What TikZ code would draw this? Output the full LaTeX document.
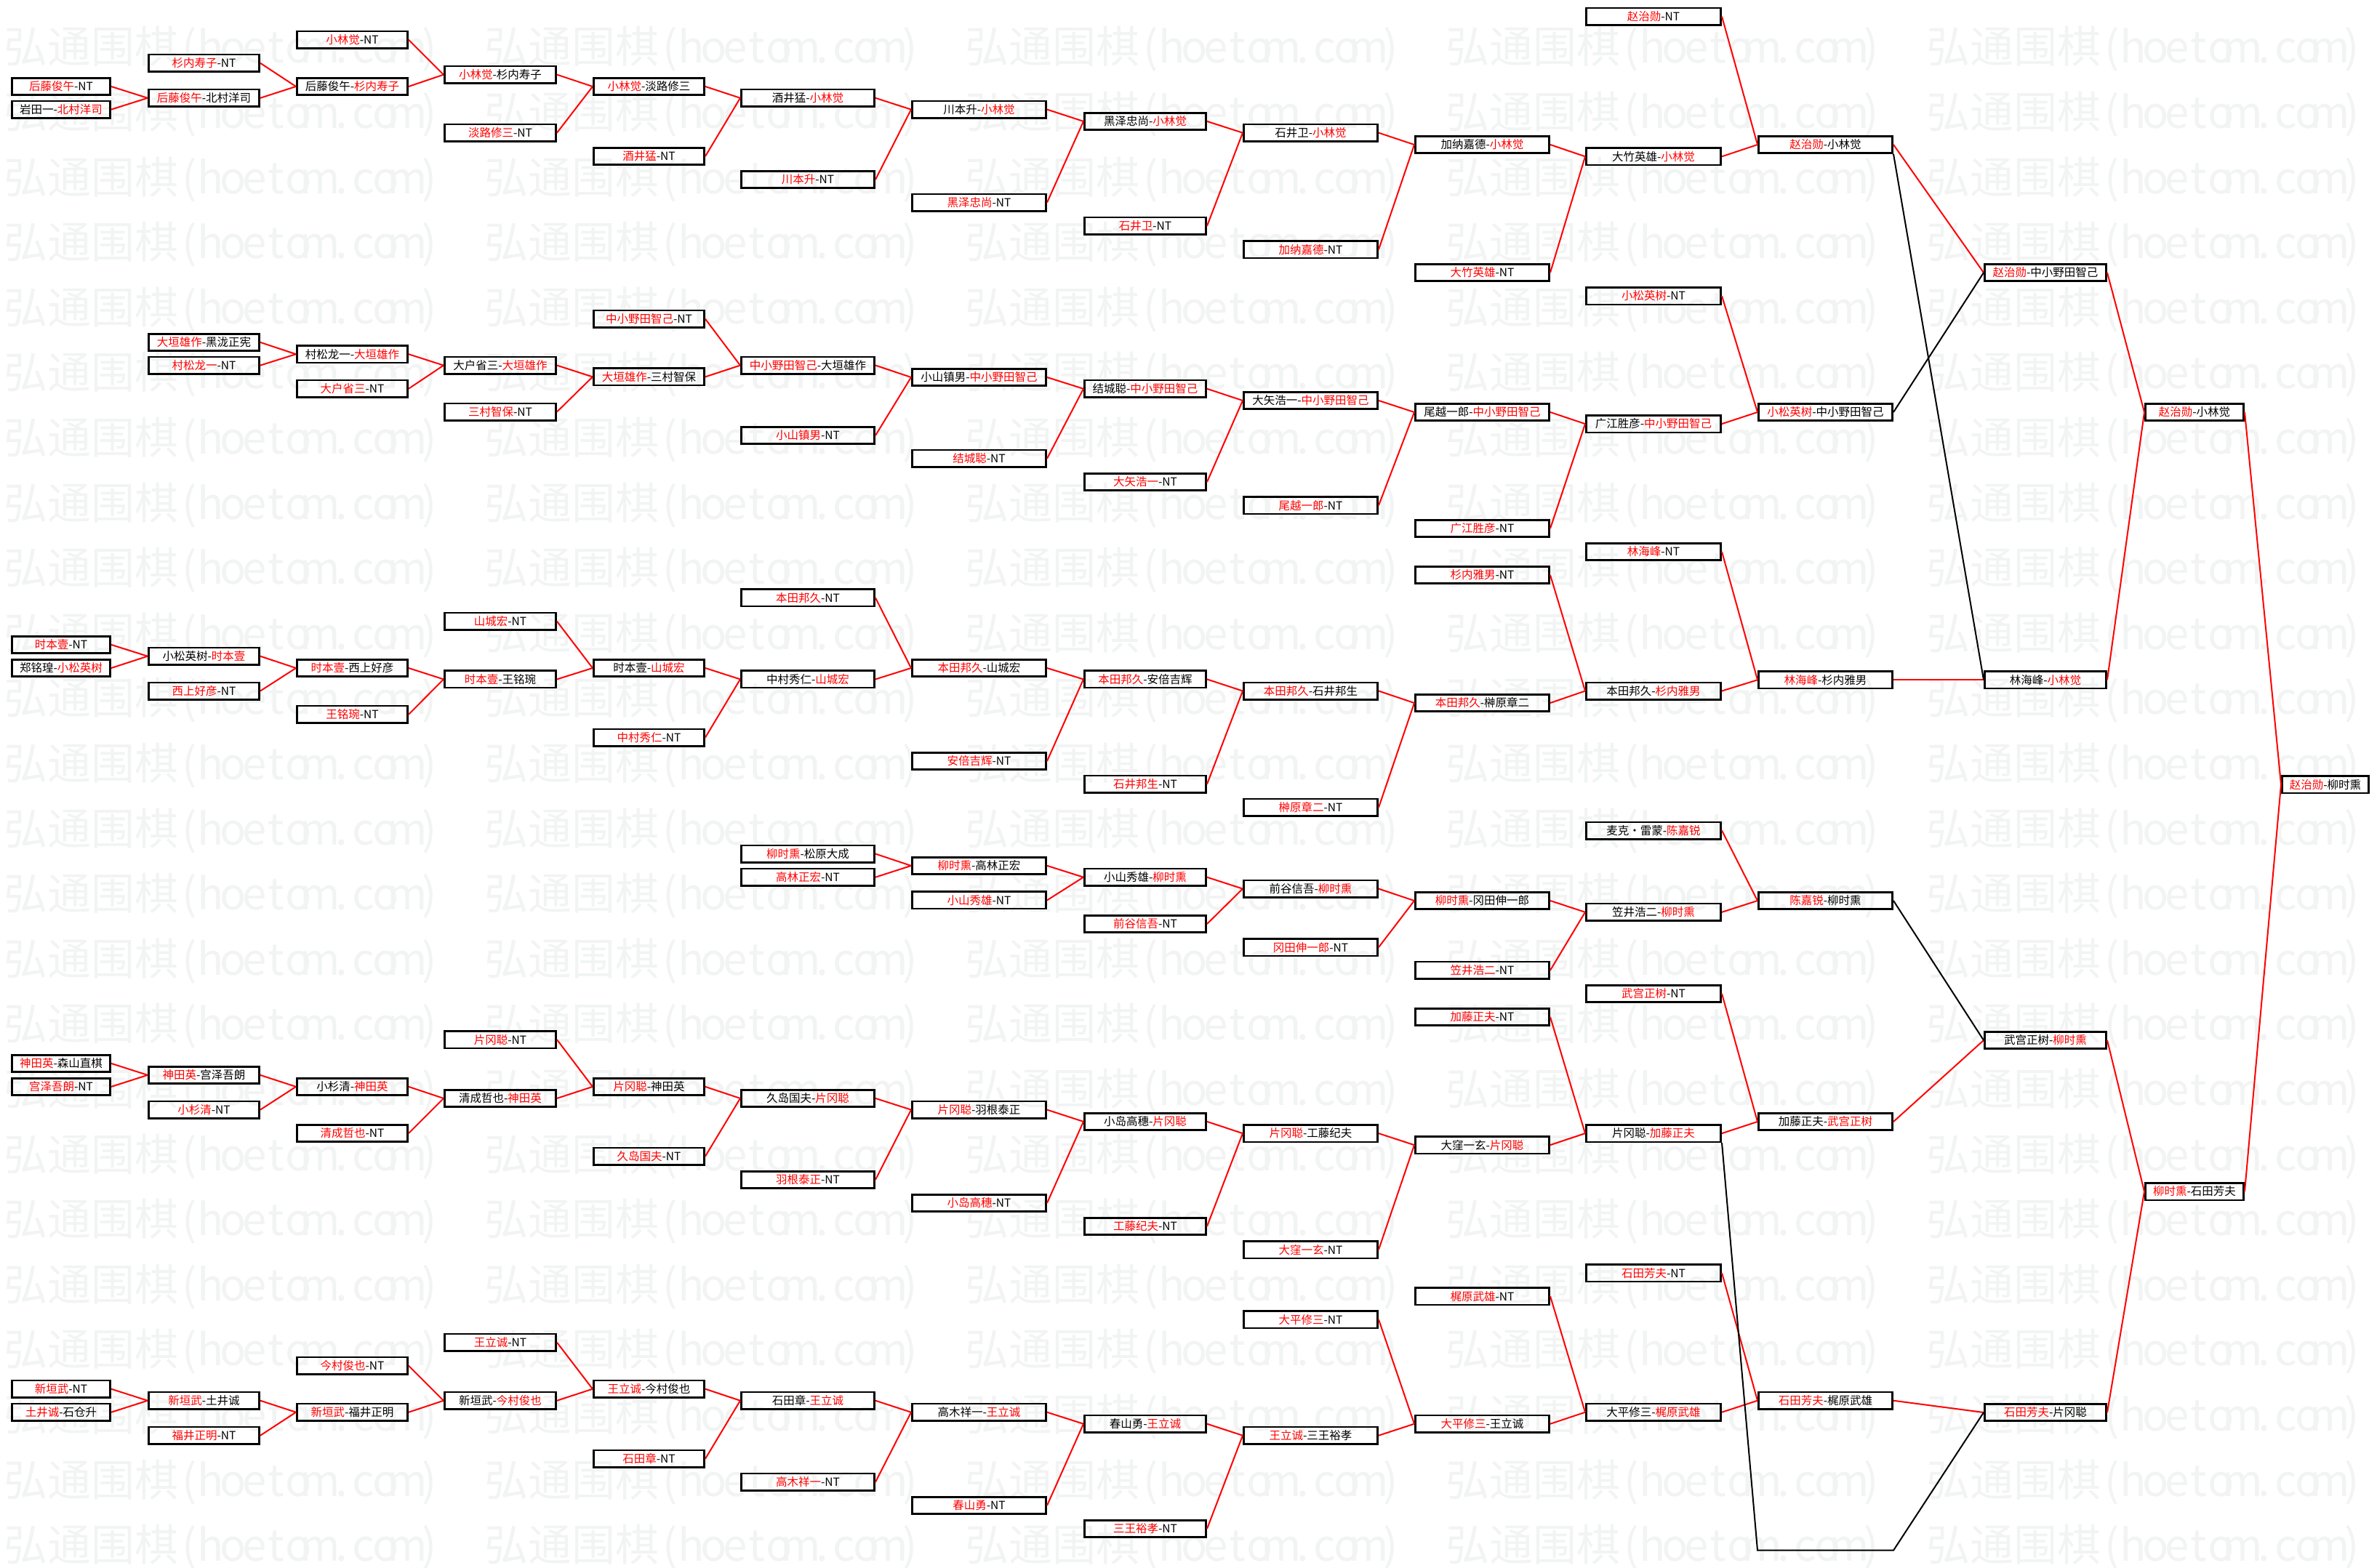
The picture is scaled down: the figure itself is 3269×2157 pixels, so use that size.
\documentclass[tikz,border=0pt]{standalone}
\usepackage{fontspec}
\setmainfont{Noto Sans CJK SC}
\definecolor{wred}{RGB}{255,0,0}
\definecolor{wmc}{RGB}{242,244,244}
\newcommand\Rd[1]{\textcolor{wred}{#1}}
\newcommand\hw[1]{\makebox[0.5em][c]{#1}}
\newcommand\wmtext{弘通围棋\hw{(}\hw{h}\hw{o}\hw{e}\hw{t}\hw{o}\hw{m}\hw{.}\hw{c}\hw{o}\hw{m}\hw{)}}
\tikzset{
 box/.style={draw=black, line width=2.6pt, inner sep=0pt, minimum height=23.4pt, font=\fontsize{15.5}{16}\selectfont},
 k0/.style={box,minimum width=135.4pt,xshift=84pt},
 k1/.style={box,minimum width=152.4pt,xshift=280.5pt},
 k2/.style={box,minimum width=152.4pt,xshift=484.5pt},
 k3/.style={box,minimum width=153.4pt,xshift=688pt},
 k4/.style={box,minimum width=152.4pt,xshift=892.5pt},
 k5/.style={box,minimum width=183.4pt,xshift=1111pt},
 k6/.style={box,minimum width=184.4pt,xshift=1346.5pt},
 k7/.style={box,minimum width=167.4pt,xshift=1575pt},
 k8/.style={box,minimum width=184.4pt,xshift=1802.5pt},
 k9/.style={box,minimum width=184.4pt,xshift=2038.5pt},
 k10/.style={box,minimum width=185.4pt,xshift=2274pt},
 k11/.style={box,minimum width=184.4pt,xshift=2510.5pt},
 k12/.style={box,minimum width=167.4pt,xshift=2813pt},
 k13/.style={box,minimum width=135.4pt,xshift=3018pt},
 k14/.style={box,minimum width=119.4pt,xshift=3198pt},
 rl/.style={draw=wred, line width=2pt},
 bl/.style={draw=black, line width=2pt},
 wmk/.style={text=wmc, font=\fontsize{60}{60}\selectfont, inner sep=0pt, anchor=west},
}
\newcommand\Bx[4]{\node[k#1] (#3) at (0,#2) {#4};}
\begin{document}
\begin{tikzpicture}[x=1pt,y=-1pt]
\useasboundingbox (0,0) rectangle (3269,2157);
\fill[white] (0,0) rectangle (3269,2157);
\begin{scope}
\clip (0,0) rectangle (3269,2157);
\foreach \r in {0,...,23} {
  \foreach \c in {0,...,4} {
    \node[wmk] (wm-\r-\c) at ({5+661*\c},{67.5+89.6*\r}) {\wmtext};
  }
}
\end{scope}
% Section 1
\Bx{0}{119}{a0a}{\Rd{后藤俊午}-NT}
\Bx{0}{150.6}{a0b}{岩田一-\Rd{北村洋司}}
\Bx{1}{86.8}{a1a}{\Rd{杉内寿子}-NT}
\Bx{1}{134.8}{a1b}{\Rd{后藤俊午}-北村洋司}
\Bx{2}{54.7}{a2a}{\Rd{小林觉}-NT}
\Bx{2}{119}{a2b}{后藤俊午-\Rd{杉内寿子}}
\Bx{3}{102.7}{a3a}{\Rd{小林觉}-杉内寿子}
\Bx{3}{182.7}{a3b}{\Rd{淡路修三}-NT}
\Bx{4}{119}{a4a}{\Rd{小林觉}-淡路修三}
\Bx{4}{215}{a4b}{\Rd{酒井猛}-NT}
\Bx{5}{134.8}{a5a}{酒井猛-\Rd{小林觉}}
\Bx{5}{247}{a5b}{\Rd{川本升}-NT}
\Bx{6}{150.6}{a6a}{川本升-\Rd{小林觉}}
\Bx{6}{278.6}{a6b}{\Rd{黑泽忠尚}-NT}
\Bx{7}{166.9}{a7a}{黑泽忠尚-\Rd{小林觉}}
\Bx{7}{310.8}{a7b}{\Rd{石井卫}-NT}
\Bx{8}{182.7}{a8a}{石井卫-\Rd{小林觉}}
\Bx{8}{343.3}{a8b}{\Rd{加纳嘉德}-NT}
\Bx{9}{199}{a9a}{加纳嘉德-\Rd{小林觉}}
\Bx{9}{375}{a9b}{\Rd{大竹英雄}-NT}
\Bx{10}{22.6}{a10a}{\Rd{赵治勋}-NT}
\Bx{10}{215.3}{a10b}{大竹英雄-\Rd{小林觉}}
\Bx{11}{199}{a11}{\Rd{赵治勋}-小林觉}
% Section 2
\Bx{1}{470.9}{b1a}{\Rd{大垣雄作}-黑泷正宪}
\Bx{1}{502.6}{b1b}{\Rd{村松龙一}-NT}
\Bx{2}{487.2}{b2a}{村松龙一-\Rd{大垣雄作}}
\Bx{2}{534.7}{b2b}{\Rd{大户省三}-NT}
\Bx{3}{502.6}{b3a}{大户省三-\Rd{大垣雄作}}
\Bx{3}{566.5}{b3b}{\Rd{三村智保}-NT}
\Bx{4}{438.8}{b4a}{\Rd{中小野田智己}-NT}
\Bx{4}{518.4}{b4b}{\Rd{大垣雄作}-三村智保}
\Bx{5}{502.6}{b5a}{\Rd{中小野田智己}-大垣雄作}
\Bx{5}{599}{b5b}{\Rd{小山镇男}-NT}
\Bx{6}{519}{b6a}{小山镇男-\Rd{中小野田智己}}
\Bx{6}{630.8}{b6b}{\Rd{结城聪}-NT}
\Bx{7}{534.8}{b7a}{结城聪-\Rd{中小野田智己}}
\Bx{7}{663}{b7b}{\Rd{大矢浩一}-NT}
\Bx{8}{551}{b8a}{大矢浩一-\Rd{中小野田智己}}
\Bx{8}{695.3}{b8b}{\Rd{尾越一郎}-NT}
\Bx{9}{567}{b9a}{尾越一郎-\Rd{中小野田智己}}
\Bx{9}{727}{b9b}{\Rd{广江胜彦}-NT}
\Bx{10}{407.1}{b10a}{\Rd{小松英树}-NT}
\Bx{10}{583.1}{b10b}{广江胜彦-\Rd{中小野田智己}}
\Bx{11}{567}{b11}{\Rd{小松英树}-中小野田智己}
% Section 3
\Bx{0}{886.9}{c0a}{\Rd{时本壹}-NT}
\Bx{0}{919}{c0b}{郑铭瑝-\Rd{小松英树}}
\Bx{1}{902.7}{c1a}{小松英树-\Rd{时本壹}}
\Bx{1}{950.5}{c1b}{\Rd{西上好彦}-NT}
\Bx{2}{919}{c2a}{\Rd{时本壹}-西上好彦}
\Bx{2}{982.8}{c2b}{\Rd{王铭琬}-NT}
\Bx{3}{854.8}{c3a}{\Rd{山城宏}-NT}
\Bx{3}{934.4}{c3b}{\Rd{时本壹}-王铭琬}
\Bx{4}{919}{c4a}{时本壹-\Rd{山城宏}}
\Bx{4}{1014.5}{c4b}{\Rd{中村秀仁}-NT}
\Bx{5}{822.4}{c5a}{\Rd{本田邦久}-NT}
\Bx{5}{934.4}{c5b}{中村秀仁-\Rd{山城宏}}
\Bx{6}{919}{c6a}{\Rd{本田邦久}-山城宏}
\Bx{6}{1047}{c6b}{\Rd{安倍吉辉}-NT}
\Bx{7}{934.4}{c7a}{\Rd{本田邦久}-安倍吉辉}
\Bx{7}{1078.7}{c7b}{\Rd{石井邦生}-NT}
\Bx{8}{950.5}{c8a}{\Rd{本田邦久}-石井邦生}
\Bx{8}{1110.8}{c8b}{\Rd{榊原章二}-NT}
\Bx{9}{791}{c9a}{\Rd{杉内雅男}-NT}
\Bx{9}{967}{c9b}{\Rd{本田邦久}-榊原章二}
\Bx{10}{758.9}{c10a}{\Rd{林海峰}-NT}
\Bx{10}{950.5}{c10b}{本田邦久-\Rd{杉内雅男}}
\Bx{11}{935.3}{c11}{\Rd{林海峰}-杉内雅男}
% Section 4
\Bx{5}{1174.6}{d5a}{\Rd{柳时熏}-松原大成}
\Bx{5}{1206.7}{d5b}{\Rd{高林正宏}-NT}
\Bx{6}{1190.9}{d6a}{\Rd{柳时熏}-高林正宏}
\Bx{6}{1238.4}{d6b}{\Rd{小山秀雄}-NT}
\Bx{7}{1206.7}{d7a}{小山秀雄-\Rd{柳时熏}}
\Bx{7}{1271}{d7b}{\Rd{前谷信吾}-NT}
\Bx{8}{1222.6}{d8a}{前谷信吾-\Rd{柳时熏}}
\Bx{8}{1303.1}{d8b}{\Rd{冈田伸一郎}-NT}
\Bx{9}{1239}{d9a}{\Rd{柳时熏}-冈田伸一郎}
\Bx{9}{1334.8}{d9b}{\Rd{笠井浩二}-NT}
\Bx{10}{1142.5}{d10a}{麦克・雷蒙-\Rd{陈嘉锐}}
\Bx{10}{1254.8}{d10b}{笠井浩二-\Rd{柳时熏}}
\Bx{11}{1239}{d11}{\Rd{陈嘉锐}-柳时熏}
% Section 5
\Bx{0}{1462.9}{e0a}{\Rd{神田英}-森山直棋}
\Bx{0}{1494.9}{e0b}{\Rd{宫泽吾朗}-NT}
\Bx{1}{1478.9}{e1a}{\Rd{神田英}-宫泽吾朗}
\Bx{1}{1526.6}{e1b}{\Rd{小杉清}-NT}
\Bx{2}{1494.9}{e2a}{小杉清-\Rd{神田英}}
\Bx{2}{1558.9}{e2b}{\Rd{清成哲也}-NT}
\Bx{3}{1430.2}{e3a}{\Rd{片冈聪}-NT}
\Bx{3}{1510.9}{e3b}{清成哲也-\Rd{神田英}}
\Bx{4}{1494.9}{e4a}{\Rd{片冈聪}-神田英}
\Bx{4}{1590.6}{e4b}{\Rd{久岛国夫}-NT}
\Bx{5}{1510.9}{e5a}{久岛国夫-\Rd{片冈聪}}
\Bx{5}{1622.9}{e5b}{\Rd{羽根泰正}-NT}
\Bx{6}{1526.6}{e6a}{\Rd{片冈聪}-羽根泰正}
\Bx{6}{1654.9}{e6b}{\Rd{小岛高穗}-NT}
\Bx{7}{1542.9}{e7a}{小岛高穗-\Rd{片冈聪}}
\Bx{7}{1686.9}{e7b}{\Rd{工藤纪夫}-NT}
\Bx{8}{1559.1}{e8a}{\Rd{片冈聪}-工藤纪夫}
\Bx{8}{1719.1}{e8b}{\Rd{大窪一玄}-NT}
\Bx{9}{1399}{e9a}{\Rd{加藤正夫}-NT}
\Bx{9}{1575.1}{e9b}{大窪一玄-\Rd{片冈聪}}
\Bx{10}{1366.9}{e10a}{\Rd{武宫正树}-NT}
\Bx{10}{1559.1}{e10b}{片冈聪-\Rd{加藤正夫}}
\Bx{11}{1543}{e11}{加藤正夫-\Rd{武宫正树}}
% Section 6
\Bx{0}{1910.7}{f0a}{\Rd{新垣武}-NT}
\Bx{0}{1942.7}{f0b}{\Rd{土井诚}-石仓升}
\Bx{1}{1926.7}{f1a}{\Rd{新垣武}-土井诚}
\Bx{1}{1974.7}{f1b}{\Rd{福井正明}-NT}
\Bx{2}{1878.7}{f2a}{\Rd{今村俊也}-NT}
\Bx{2}{1942.7}{f2b}{\Rd{新垣武}-福井正明}
\Bx{3}{1846.7}{f3a}{\Rd{王立诚}-NT}
\Bx{3}{1926.7}{f3b}{新垣武-\Rd{今村俊也}}
\Bx{4}{1910.7}{f4a}{\Rd{王立诚}-今村俊也}
\Bx{4}{2006.7}{f4b}{\Rd{石田章}-NT}
\Bx{5}{1926.7}{f5a}{石田章-\Rd{王立诚}}
\Bx{5}{2038.7}{f5b}{\Rd{高木祥一}-NT}
\Bx{6}{1942.7}{f6a}{高木祥一-\Rd{王立诚}}
\Bx{6}{2071}{f6b}{\Rd{春山勇}-NT}
\Bx{7}{1958.7}{f7a}{春山勇-\Rd{王立诚}}
\Bx{7}{2103}{f7b}{\Rd{三王裕孝}-NT}
\Bx{8}{1815.1}{f8a}{\Rd{大平修三}-NT}
\Bx{8}{1974.7}{f8b}{\Rd{王立诚}-三王裕孝}
\Bx{9}{1783.1}{f9a}{\Rd{梶原武雄}-NT}
\Bx{9}{1958.7}{f9b}{\Rd{大平修三}-王立诚}
\Bx{10}{1751.1}{f10a}{\Rd{石田芳夫}-NT}
\Bx{10}{1942.7}{f10b}{大平修三-\Rd{梶原武雄}}
\Bx{11}{1926.7}{f11}{\Rd{石田芳夫}-梶原武雄}
% Finals
\Bx{12}{375}{g12a}{\Rd{赵治勋}-中小野田智己}
\Bx{12}{935.3}{g12b}{林海峰-\Rd{小林觉}}
\Bx{12}{1431}{g12c}{武宫正树-\Rd{柳时熏}}
\Bx{12}{1943}{g12d}{\Rd{石田芳夫}-片冈聪}
\Bx{13}{567}{g13a}{\Rd{赵治勋}-小林觉}
\Bx{13}{1639.1}{g13b}{\Rd{柳时熏}-石田芳夫}
\Bx{14}{1079.2}{g14}{\Rd{赵治勋}-柳时熏}
\coordinate (h1) at (2417,2132.7);
\coordinate (h2) at (2604,2132.7);
% connectors
\foreach \s/\t in {a0a/a1b,a0b/a1b,a1a/a2b,a1b/a2b,a2a/a3a,a2b/a3a,a3a/a4a,a3b/a4a,a4a/a5a,a4b/a5a,a5a/a6a,a5b/a6a,a6a/a7a,a6b/a7a,a7a/a8a,a7b/a8a,a8a/a9a,a8b/a9a,a9a/a10b,a9b/a10b,a10a/a11,a10b/a11,
 b1a/b2a,b1b/b2a,b2a/b3a,b2b/b3a,b3a/b4b,b3b/b4b,b4a/b5a,b4b/b5a,b5a/b6a,b5b/b6a,b6a/b7a,b6b/b7a,b7a/b8a,b7b/b8a,b8a/b9a,b8b/b9a,b9a/b10b,b9b/b10b,b10a/b11,b10b/b11,
 c0a/c1a,c0b/c1a,c1a/c2a,c1b/c2a,c2a/c3b,c2b/c3b,c3a/c4a,c3b/c4a,c4a/c5b,c4b/c5b,c5a/c6a,c5b/c6a,c6a/c7a,c6b/c7a,c7a/c8a,c7b/c8a,c8a/c9b,c8b/c9b,c9a/c10b,c9b/c10b,c10a/c11,c10b/c11,
 d5a/d6a,d5b/d6a,d6a/d7a,d6b/d7a,d7a/d8a,d7b/d8a,d8a/d9a,d8b/d9a,d9a/d10b,d9b/d10b,d10a/d11,d10b/d11,
 e0a/e1a,e0b/e1a,e1a/e2a,e1b/e2a,e2a/e3b,e2b/e3b,e3a/e4a,e3b/e4a,e4a/e5a,e4b/e5a,e5a/e6a,e5b/e6a,e6a/e7a,e6b/e7a,e7a/e8a,e7b/e8a,e8a/e9b,e8b/e9b,e9a/e10b,e9b/e10b,e10a/e11,e10b/e11,
 f0a/f1a,f0b/f1a,f1a/f2b,f1b/f2b,f2a/f3b,f2b/f3b,f3a/f4a,f3b/f4a,f4a/f5a,f4b/f5a,f5a/f6a,f5b/f6a,f6a/f7a,f6b/f7a,f7a/f8b,f7b/f8b,f8a/f9b,f8b/f9b,f9a/f10b,f9b/f10b,f10a/f11,f10b/f11,
 a11/g12a,c11/g12b,e11/g12c,f11/g12d,g12a/g13a,g12b/g13a,g12c/g13b,g12d/g13b,g13a/g14,g13b/g14}
 {\draw[rl] (\s.east) -- (\t.west);}
\draw[bl] (b11.east) -- (g12a.west);
\draw[bl] (a11.south east) -- (g12b.west);
\draw[bl] (d11.east) -- (g12c.west);
\draw[bl] (e10b.south east) -- (h1) -- (h2) -- (g12d.west);
\end{tikzpicture}
\end{document}
